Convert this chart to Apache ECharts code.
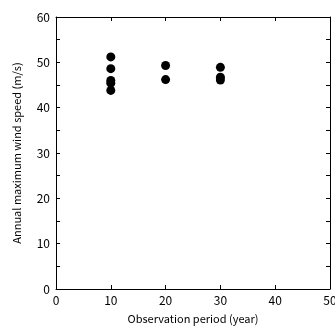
<!DOCTYPE html>
<html><head><meta charset="utf-8">
<script src="https://cdn.jsdelivr.net/npm/echarts@6/dist/echarts.min.js"></script>
<style>html,body{margin:0;padding:0;background:#fff}#c{width:335px;height:329px}</style>
</head><body><div id="c"></div>
<script>
const periods = [10,10,10,10,10,20,20,30,30,30];
const windSpeeds = [51.2,48.6,46.0,45.4,43.8,49.3,46.2,48.9,46.7,46.1];
const xTicks = [0,10,20,30,40,50];
const yTicks = [0,10,20,30,40,50,60];
const xTitle = 'Observation period (year)';
const yTitle = 'Annual maximum wind speed (m/s)';

const font = '"Noto Sans CJK JP", "DejaVu Sans", sans-serif';
const lineStyle = {color:'#000', width:1};
const chart = echarts.init(document.getElementById('c'), null, {renderer:'canvas'});
const baseX = {type:'value', min:xTicks[0], max:xTicks[xTicks.length-1], interval:10,
  axisLine:{show:true, onZero:false, lineStyle},
  axisTick:{show:true, inside:true, length:4, lineStyle},
  splitLine:{show:false}};
const baseY = {type:'value', min:yTicks[0], max:yTicks[yTicks.length-1], interval:10,
  axisLine:{show:true, onZero:false, lineStyle},
  axisTick:{show:true, inside:true, length:4, lineStyle},
  minorTick:{show:true, splitNumber:2, length:4, lineStyle},
  splitLine:{show:false}};
chart.setOption({
  animation:false,
  grid:{left:56, top:17, right:5, bottom:40, containLabel:false, outerBoundsMode:'none'},
  xAxis:[
    Object.assign({}, baseX, {position:'bottom', name:xTitle, nameLocation:'middle', nameGap:24,
      nameTextStyle:{color:'#000', fontSize:11, fontFamily:font},
      axisLabel:{color:'#000', fontSize:12, fontFamily:font, margin:5, hideOverlap:false, alignMaxLabel:'center', alignMinLabel:'center'}}),
    Object.assign({}, baseX, {position:'top', axisLabel:{show:false}})
  ],
  yAxis:[
    Object.assign({}, baseY, {position:'left', name:yTitle, nameLocation:'middle', nameGap:34,
      nameTextStyle:{color:'#000', fontSize:11, fontFamily:font},
      axisLabel:{color:'#000', fontSize:12, fontFamily:font, margin:6}}),
    Object.assign({}, baseY, {position:'right', axisLabel:{show:false}})
  ],
  series:[{type:'scatter', symbol:'circle', symbolSize:9, itemStyle:{color:'#000', opacity:1},
    data: periods.map((p,i)=>[p, windSpeeds[i]])}]
});
</script></body></html>
